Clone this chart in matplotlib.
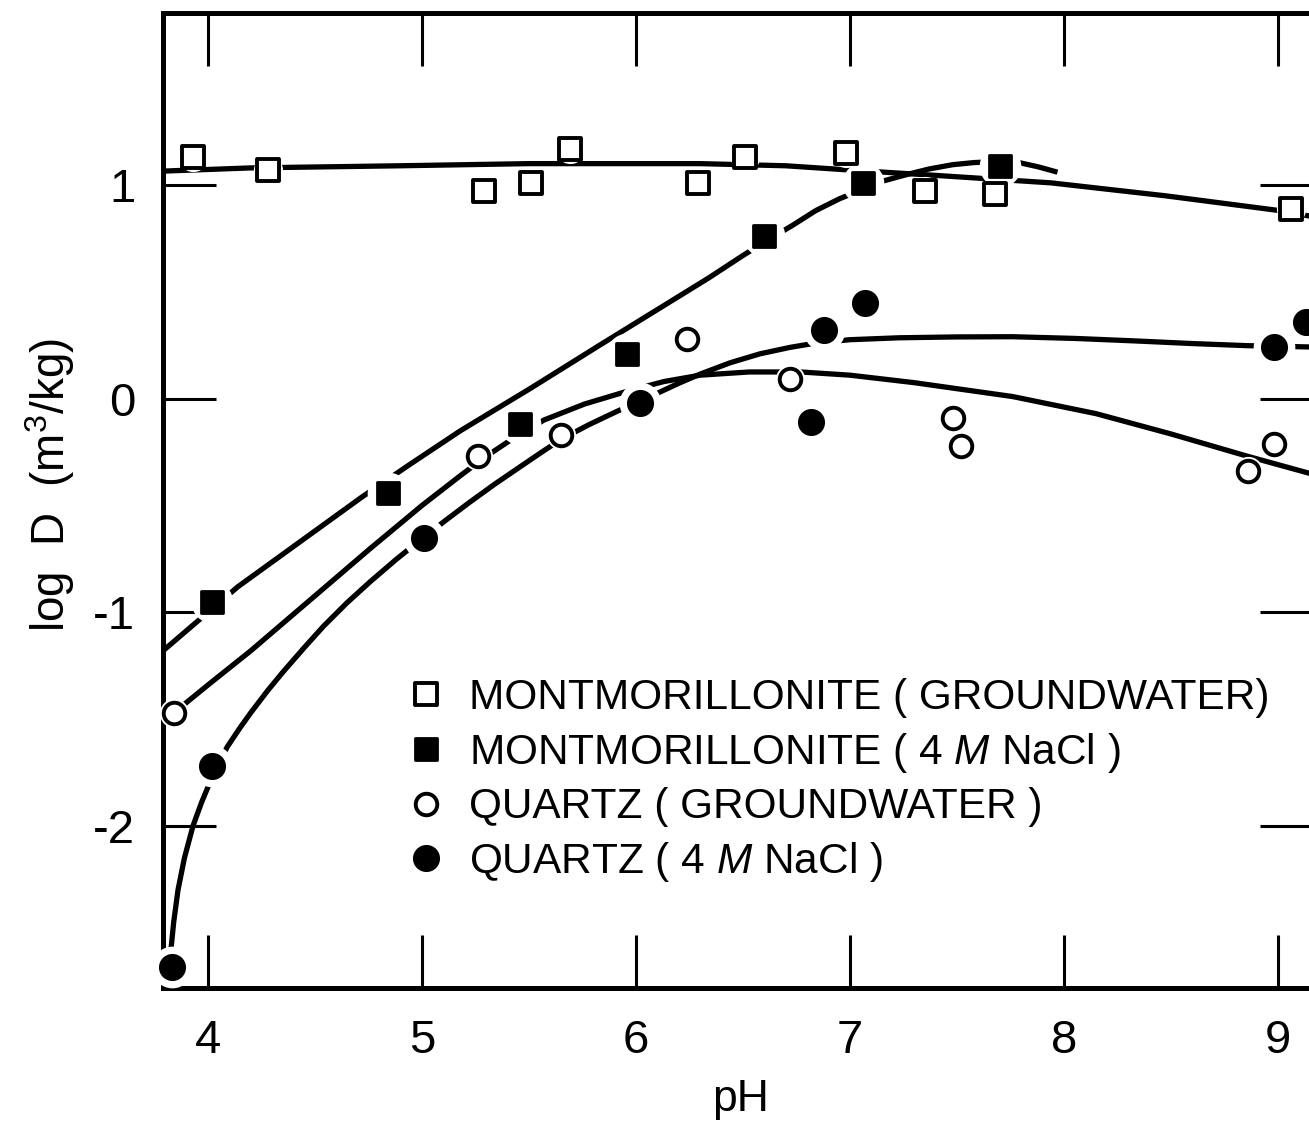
import matplotlib.pyplot as plt
from matplotlib.markers import MarkerStyle
from matplotlib.lines import Line2D

plt.rcParams['font.family'] = ['Liberation Sans', 'DejaVu Sans']
plt.rcParams['mathtext.fontset'] = 'custom'
plt.rcParams['mathtext.rm'] = 'Liberation Sans'
plt.rcParams['mathtext.it'] = 'Liberation Sans:italic'

# measured points
mont_gw_ph = [3.93, 4.28, 5.29, 5.51, 5.69, 6.29, 6.51, 6.98, 7.35, 7.68, 9.06]
mont_gw_d = [1.13, 1.07, 0.97, 1.01, 1.17, 1.01, 1.13, 1.15, 0.97, 0.96, 0.89]

mont_na_ph = [4.02, 4.84, 5.46, 5.96, 6.60, 7.06, 7.70]
mont_na_d = [-0.95, -0.44, -0.12, 0.21, 0.76, 1.01, 1.09]

qtz_gw_ph = [3.84, 5.26, 5.65, 6.24, 6.72, 7.48, 7.52, 8.86, 8.98]
qtz_gw_d = [-1.47, -0.27, -0.17, 0.28, 0.09, -0.09, -0.22, -0.34, -0.21]

qtz_na_ph = [3.83, 4.02, 5.01, 6.02, 6.82, 6.88, 7.07, 8.98, 9.13]
qtz_na_d = [-2.66, -1.72, -0.65, -0.02, -0.11, 0.32, 0.45, 0.24, 0.36]

# hand-drawn fitted curves
mont_gw_curve_ph = [3.79, 4.20, 4.90, 5.50, 5.83, 6.30, 6.70, 7.00, 7.40, 7.94, 8.47, 9.01, 9.20]
mont_gw_curve_d = [1.065, 1.08, 1.09, 1.10, 1.10, 1.10, 1.09, 1.07, 1.045, 1.01, 0.95, 0.88, 0.845]

mont_na_curve_ph = [3.79, 3.93, 4.14, 4.43, 4.72, 4.94, 5.18, 5.51, 5.83, 6.17, 6.34, 6.50,
                    6.62, 6.73, 6.84, 6.95, 7.06, 7.16, 7.27, 7.37, 7.48, 7.58, 7.70, 7.79,
                    7.88, 7.97]
mont_na_curve_d = [-1.18, -1.06, -0.88, -0.67, -0.46, -0.31, -0.15, 0.05, 0.25, 0.46, 0.565, 0.67,
                   0.745, 0.81, 0.88, 0.935, 0.98, 1.02, 1.05, 1.075, 1.095, 1.105, 1.11, 1.105,
                   1.085, 1.06]

qtz_gw_curve_ph = [3.79, 3.89, 4.00, 4.20, 4.48, 4.76, 5.00, 5.18, 5.30, 5.42, 5.57, 5.76,
                   5.96, 6.13, 6.30, 6.53, 6.77, 7.00, 7.30, 7.76, 8.15, 8.50, 8.86, 9.15, 9.30]
qtz_gw_curve_d = [-1.51, -1.43, -1.34, -1.18, -0.94, -0.70, -0.50, -0.36, -0.27, -0.19, -0.10, -0.025,
                  0.035, 0.08, 0.11, 0.125, 0.125, 0.11, 0.075, 0.01, -0.07, -0.165, -0.27, -0.35, -0.39]

qtz_na_curve_ph = [3.82, 3.84, 3.86, 3.89, 3.93, 3.97, 4.02, 4.09, 4.15, 4.20, 4.28, 4.35,
                   4.45, 4.54, 4.65, 4.76, 4.88, 5.00, 5.11, 5.22, 5.34, 5.46, 5.56, 5.65,
                   5.78, 5.91, 6.01, 6.11, 6.20, 6.30, 6.44, 6.58, 6.72, 6.85, 7.00, 7.23,
                   7.50, 7.76, 8.05, 8.34, 8.60, 8.86, 9.15, 9.30]
qtz_na_curve_d = [-2.65, -2.45, -2.30, -2.15, -2.00, -1.89, -1.77, -1.63, -1.54, -1.47, -1.365, -1.28,
                  -1.165, -1.065, -0.955, -0.855, -0.752, -0.655, -0.57, -0.487, -0.40, -0.318, -0.25, -0.19,
                  -0.122, -0.06, -0.015, 0.03, 0.072, 0.115, 0.168, 0.21, 0.24, 0.262, 0.276, 0.285,
                  0.289, 0.29, 0.282, 0.27, 0.258, 0.248, 0.242, 0.24]

labels = ['MONTMORILLONITE ( GROUNDWATER)',
          r'MONTMORILLONITE ( 4 $\it{M}$ NaCl )',
          'QUARTZ ( GROUNDWATER )',
          r'QUARTZ ( 4 $\it{M}$ NaCl )']

sq = MarkerStyle('s', joinstyle='round')
styles = [
    dict(marker=sq, ms=15.5, mfc='white', mec='black', mew=2.8),
    dict(marker=sq, ms=16.5, mfc='black', mec='black', mew=2),
    dict(marker='o', ms=15.5, mfc='white', mec='black', mew=2.8),
    dict(marker='o', ms=19.5, mfc='black', mec='none', mew=0),
]
halos = [21, 30, 21, 30]

fig = plt.figure(figsize=(13.09, 11.26), dpi=100)
ax = fig.add_axes([0.12452, 0.12256, 0.87853, 0.86590])

curves = [(mont_gw_curve_ph, mont_gw_curve_d), (mont_na_curve_ph, mont_na_curve_d),
          (qtz_gw_curve_ph, qtz_gw_curve_d), (qtz_na_curve_ph, qtz_na_curve_d)]
points = [(mont_gw_ph, mont_gw_d), (mont_na_ph, mont_na_d),
          (qtz_gw_ph, qtz_gw_d), (qtz_na_ph, qtz_na_d)]

for cx, cy in curves:
    ax.plot(cx, cy, color='black', lw=3.8, solid_capstyle='butt',
            solid_joinstyle='round', zorder=2)

# white rings so the lines break around the symbols
for (px, py), h in zip(points, halos):
    ax.plot(px, py, ls='none', marker='o', ms=h, mfc='white', mec='none',
            zorder=3, clip_on=False)

for (px, py), st in zip(points, styles):
    ax.plot(px, py, ls='none', zorder=4, clip_on=False, **st)

ax.set_xlim(3.79, 9.164)
ax.set_ylim(-2.758, 1.805)
ax.set_xticks([4, 5, 6, 7, 8, 9])
ax.set_xticklabels(['4', '5', '6', '7', '8', '9'])
ax.set_yticks([-2, -1, 0, 1])
ax.set_yticklabels(['-2', '-1', '0', '1'])
ax.tick_params(direction='in', length=38, width=2.2, top=True, right=True,
               labelsize=34)
ax.tick_params(axis='x', pad=22)
ax.tick_params(axis='y', pad=20)
for sp in ax.spines.values():
    sp.set_linewidth(3.6)

handles = [Line2D([], [], ls='none', **st) for st in styles]
ax.legend(handles, labels, loc='upper left', bbox_to_anchor=(405 / 1309, 1 - 678 / 1126),
          bbox_transform=fig.transFigure, frameon=False, fontsize=30.5,
          handlelength=1.0, handletextpad=0.5, labelspacing=0.3,
          borderpad=0, borderaxespad=0)

fig.text(50 / 1309, 1 - 485 / 1126, 'log  D  (m$^3$/kg)', rotation=90,
         ha='center', va='center', fontsize=33)
fig.text(741 / 1309, 1 - 1100 / 1126, 'pH', ha='center', va='center', fontsize=32)

fig.savefig('out.png', dpi=100)
